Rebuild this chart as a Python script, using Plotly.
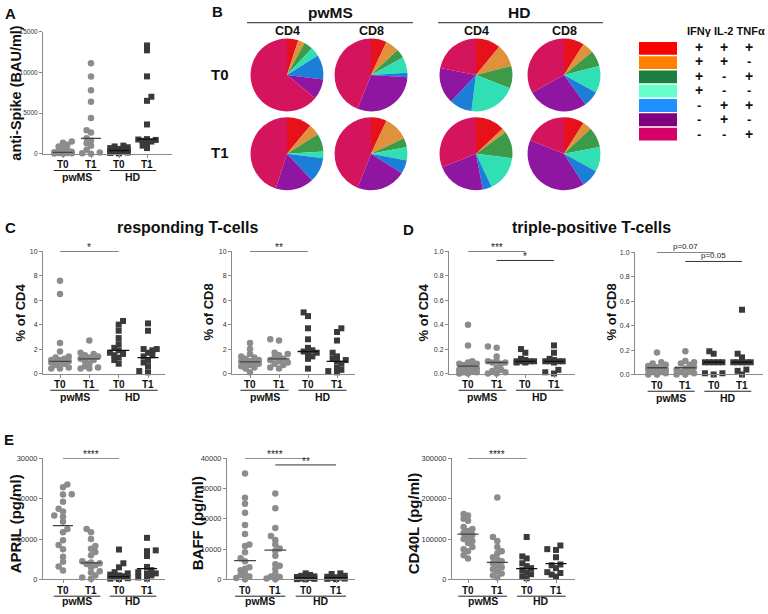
import numpy as np
import plotly.graph_objects as go

W, H = 768, 614

# ---------------- data ----------------
timepoints = ["T0", "T1", "T0", "T1"]
cohorts = ["pwMS", "HD"]

# A: anti-Spike (BAU/ml)
spike_pwms_t0 = [1500, 1350, 1100, 900, 650, 450, 300, 250, 200, 150, 100, 80, 50, 20, 0]
spike_pwms_t1 = [11100, 9500, 7800, 6400, 4400, 2900, 2600, 1900, 1600, 1300, 1000, 500, 150, 50, 0]
spike_hd_t0 = [1000, 900, 800, 700, 600, 500, 450, 400, 350, 300, 250, 200, 150, 100, 50]
spike_hd_t1 = [13300, 12700, 9500, 7000, 6500, 3600, 1800, 1750, 1700, 1600, 1500, 1300, 1000, 700]
spike_medians = [180, 1900, 400, 1800]

# B: pie fractions (%), order: IFNg+IL2+TNF+, ++-, +-+, +--, -++, -+-, --+
combo_labels = ["IFNγ+IL-2+TNFα+", "IFNγ+IL-2+TNFα-", "IFNγ+IL-2-TNFα+", "IFNγ+IL-2-TNFα-",
                "IFNγ-IL-2+TNFα+", "IFNγ-IL-2+TNFα-", "IFNγ-IL-2-TNFα+"]
combo_signs = [["+", "+", "+"], ["+", "+", "-"], ["+", "-", "+"], ["+", "-", "-"],
               ["-", "+", "+"], ["-", "+", "-"], ["-", "-", "+"]]
legend_header = "IFNγ IL-2 TNFα"
pie_pwms_cd4_t0 = [5, 3, 4, 4, 11, 9, 64]
pie_pwms_cd8_t0 = [7, 6, 4, 7, 2, 30, 44]
pie_hd_cd4_t0 = [11, 10, 10, 21, 10, 16, 22]
pie_hd_cd8_t0 = [9, 5, 7, 12, 7, 27, 33]
pie_pwms_cd4_t1 = [11, 5, 8, 3, 11, 17, 45]
pie_pwms_cd8_t1 = [7, 11, 4, 6, 6, 22, 44]
pie_hd_cd4_t1 = [13, 2, 12, 16, 4, 22, 31]
pie_hd_cd8_t1 = [9, 4, 9, 11, 8, 40, 19]

# C: responding T-cells (%)
resp_cd4 = [
    [7.6, 6.5, 2.5, 1.8, 1.4, 1.3, 1.2, 1.1, 1.1, 1.0, 1.0, 1.0, 0.9, 0.9, 0.8, 0.7, 0.5, 0.4, 0.4],
    [2.7, 1.7, 1.6, 1.5, 1.4, 1.3, 1.2, 1.1, 1.0, 0.8, 0.6, 0.5, 0.4, 0.4],
    [4.3, 4.0, 3.5, 2.9, 2.4, 2.1, 1.9, 1.7, 1.6, 1.5, 1.3, 1.1, 0.8],
    [4.1, 3.5, 2.0, 2.0, 1.9, 1.7, 1.5, 1.4, 1.1, 0.9, 0.6, 0.2, 0.1],
]
resp_cd4_medians = [1.0, 1.2, 1.9, 1.3]
resp_cd8 = [
    [2.5, 2.0, 1.6, 1.4, 1.3, 1.2, 1.1, 1.0, 1.0, 0.9, 0.9, 0.8, 0.7, 0.6, 0.5, 0.4, 0.1],
    [2.8, 2.7, 1.7, 1.6, 1.5, 1.3, 1.2, 1.1, 1.0, 0.9, 0.8, 0.7, 0.5, 0.4],
    [5.0, 4.7, 3.7, 2.8, 2.1, 1.9, 1.8, 1.7, 1.6, 1.4, 1.2, 0.4],
    [3.7, 3.4, 2.7, 1.7, 1.4, 1.2, 1.1, 1.0, 0.8, 0.5, 0.3, 0.2, 0.1],
]
resp_cd8_medians = [0.95, 1.2, 1.8, 1.0]

# D: triple-positive T-cells (%)
tp_cd4 = [
    [0.40, 0.23, 0.10, 0.09, 0.08, 0.08, 0.07, 0.06, 0.05, 0.04, 0.03, 0.03, 0.02, 0.02, 0.01, 0.01, 0.0, 0.0],
    [0.22, 0.21, 0.14, 0.10, 0.10, 0.09, 0.09, 0.08, 0.05, 0.03, 0.02, 0.01, 0.0, 0.0],
    [0.20, 0.17, 0.12, 0.11, 0.10, 0.10, 0.10, 0.10, 0.10, 0.10, 0.09, 0.09],
    [0.23, 0.17, 0.12, 0.11, 0.10, 0.10, 0.10, 0.10, 0.09, 0.03, 0.01, 0.0],
]
tp_cd4_medians = [0.06, 0.09, 0.10, 0.10]
tp_cd8 = [
    [0.18, 0.10, 0.09, 0.08, 0.07, 0.06, 0.05, 0.05, 0.04, 0.04, 0.03, 0.02, 0.02, 0.01, 0.0, 0.0],
    [0.19, 0.11, 0.10, 0.09, 0.08, 0.06, 0.05, 0.04, 0.03, 0.02, 0.01, 0.0, 0.0],
    [0.19, 0.17, 0.10, 0.10, 0.10, 0.10, 0.10, 0.01, 0.01, 0.0],
    [0.53, 0.17, 0.14, 0.10, 0.10, 0.10, 0.10, 0.10, 0.04, 0.03, 0.0],
]
tp_cd8_medians = [0.055, 0.055, 0.10, 0.10]

# E: cytokines (pg/ml)
april = [
    [23500, 22800, 21100, 21000, 19200, 17500, 16800, 15800, 15500, 14300, 12500, 11700, 9700, 8500, 7500, 5600, 4400, 3200, 2200],
    [12500, 11700, 10000, 8300, 7600, 6800, 6000, 4500, 4200, 4000, 3800, 3500, 3000, 2000, 1700, 1000, 500, 200],
    [7400, 4000, 3000, 1800, 1500, 1200, 1000, 800, 500, 300, 200, 100],
    [10300, 7200, 7000, 5800, 3100, 2300, 1800, 1500, 1500, 1000, 500, 200],
]
april_medians = [13300, 4100, 700, 2700]
baff = [
    [35000, 27000, 25000, 22000, 18000, 15000, 11500, 11000, 9000, 7000, 6000, 4000, 3500, 3000, 2000, 1500, 1000, 500, 100],
    [28400, 23500, 17000, 14300, 13000, 11500, 10200, 9500, 7800, 5000, 4500, 3500, 2000, 1000, 800, 300, 100],
    [2000, 1500, 1200, 1000, 800, 600, 500, 300, 200, 100, 50],
    [2000, 1800, 1200, 900, 700, 600, 500, 300, 200, 100],
]
baff_medians = [6200, 9650, 500, 600]
cd40l = [
    [162000, 158000, 150000, 145000, 130000, 125000, 120000, 115000, 110000, 105000, 100000, 95000, 90000, 80000, 75000, 70000, 60000, 52000],
    [203000, 105000, 95000, 80000, 70000, 65000, 55000, 50000, 45000, 40000, 35000, 30000, 25000, 20000, 15000, 10000, 5000],
    [105000, 57000, 52000, 40000, 33000, 28000, 23000, 17000, 13000, 8000, 3000],
    [84000, 75000, 73000, 55000, 37000, 35000, 28000, 18000, 16000, 12000, 7000],
]
cd40l_medians = [112000, 42000, 27000, 39000]

# ---------------- styling ----------------
FONT = "Arial, Liberation Sans, Helvetica, sans-serif"
AXIS_COL = "#8a8a8a"
PW_COL = "#8c8c8c"
HD_COL = "#3a3a3a"
PIE_COLORS = ["#e6111b", "#e0913a", "#3d9a48", "#30e0b4", "#1b7fd9", "#8e16a0", "#d4145c"]
LEG_COLORS = ["#ff0000", "#ff8000", "#1a7f40", "#66ffcc", "#1e90ff", "#800080", "#d6006b"]


def fx(px):
    return px / W


def fy(py):
    return 1 - py / H


panels = [
    dict(vals=[spike_pwms_t0, spike_pwms_t1, spike_hd_t0, spike_hd_t1], med=spike_medians,
         ymax=15000, yt=[0, 5000, 10000, 15000], fmt="d", title="anti-Spike (BAU/ml)", tsize=14.5, tpos=(16, 90),
         box=(43, 172, 28, 152), p0=63, p3=147, tick=6.5, sig=[]),
    dict(vals=resp_cd4, med=resp_cd4_medians, ymax=10, yt=[0, 2, 4, 6, 8, 10], fmt="d", title="% of CD4",
         tsize=13, tpos=(20, 313), box=(43, 165, 251, 375), p0=60, p3=148, tick=7, sig=[(0, 2, 10, "*")]),
    dict(vals=resp_cd8, med=resp_cd8_medians, ymax=10, yt=[0, 2, 4, 6, 8, 10], fmt="d", title="% of CD8",
         tsize=13, tpos=(208, 313), box=(232, 355, 251, 375), p0=250, p3=337, tick=7, sig=[(0, 2, 10, "**")]),
    dict(vals=tp_cd4, med=tp_cd4_medians, ymax=1.0, yt=[0, 0.2, 0.4, 0.6, 0.8, 1.0], fmt=".1f", title="% of CD4",
         tsize=13, tpos=(423, 313), box=(449, 575, 251, 375), p0=468, p3=554, tick=7,
         sig=[(0, 2, 1.0, "***"), (1, 3, 0.925, "*")]),
    dict(vals=tp_cd8, med=tp_cd8_medians, ymax=1.0, yt=[0, 0.2, 0.4, 0.6, 0.8, 1.0], fmt=".1f", title="% of CD8",
         tsize=13, tpos=(611, 313), box=(635, 763, 252, 376), p0=657, p3=742, tick=7,
         sig=[(0, 2, 1.0, "p=0.07"), (1, 3, 0.925, "p=0.05")]),
    dict(vals=april, med=april_medians, ymax=30000, yt=[0, 10000, 20000, 30000], fmt="d", title="APRIL (pg/ml)",
         tsize=15, tpos=(15, 528), box=(43, 165, 461, 584), p0=63, p3=147, tick=7.5, sig=[(0, 2, 30000, "****")]),
    dict(vals=baff, med=baff_medians, ymax=40000, yt=[0, 10000, 20000, 30000, 40000], fmt="d", title="BAFF (pg/ml)",
         tsize=15, tpos=(197, 527), box=(227, 355, 461, 584), p0=245, p3=336, tick=7.5,
         sig=[(0, 2, 40000, "****"), (1, 3, 37800, "**")]),
    dict(vals=cd40l, med=cd40l_medians, ymax=300000, yt=[0, 100000, 200000, 300000], fmt="d", title="CD40L (pg/ml)",
         tsize=15, tpos=(413, 528), box=(452, 575, 461, 584), p0=468, p3=556, tick=7.5,
         sig=[(0, 2, 300000, "****")]),
]


def swarm(vals, pos, ymax, hpx, upx, d=4.6, maxoff=13.0):
    """Deterministic beeswarm-style horizontal spreading (pixel space)."""
    placed = []
    xs = [0.0] * len(vals)
    order = np.argsort(np.asarray(vals), kind="stable")
    side = 1
    step = d * 0.95
    kmax = int(maxoff // step)
    for idx in order:
        ypx = vals[idx] / ymax * hpx
        cands = [0.0]
        for k in range(1, kmax + 1):
            cands += [side * k * step, -side * k * step]
        chosen = None
        best, bestd = 0.0, -1.0
        for c in cands:
            dmin = min([np.hypot(c - a, ypx - b) for a, b in placed] + [1e9])
            if dmin >= d:
                chosen = c
                break
            if dmin > bestd:
                best, bestd = c, dmin
        if chosen is None:
            chosen = best
        side = -side
        placed.append((chosen, ypx))
        xs[idx] = pos + chosen / upx
    return xs


fig = go.Figure()
layout = dict(width=W, height=H, margin=dict(l=0, r=0, t=0, b=0), paper_bgcolor="white",
              plot_bgcolor="rgba(0,0,0,0)", showlegend=False, font=dict(family=FONT, color="#111"))
shapes = []
annotations = []


def ann(text, px, py, size, bold=True, color="#111", angle=0, xanchor="center", yanchor="middle", **kw):
    annotations.append(dict(text=("<b>%s</b>" % text) if bold else text, x=fx(px), y=fy(py), xref="paper",
                            yref="paper", showarrow=False, textangle=angle, xanchor=xanchor, yanchor=yanchor,
                            font=dict(size=size, color=color, family=FONT), **kw))


for i, p in enumerate(panels):
    n = i + 1
    xs_name = "x" if n == 1 else "x%d" % n
    ys_name = "y" if n == 1 else "y%d" % n
    x0, x1, ytop, ybot = p["box"]
    upx = (p["p3"] - p["p0"]) / 3.0
    xr = [(x0 - p["p0"]) / upx, (x1 - p["p0"]) / upx]
    hpx = ybot - ytop
    if p["fmt"] == ".1f":
        ttext = ["%.1f" % v for v in p["yt"]]
    else:
        ttext = ["%d" % v for v in p["yt"]]
    layout["xaxis" if n == 1 else "xaxis%d" % n] = dict(
        domain=[fx(x0), fx(x1)], range=xr, anchor=ys_name, showline=True, linecolor=AXIS_COL, linewidth=1,
        ticks="outside", ticklen=3, tickcolor=AXIS_COL, tickvals=[0, 1, 2, 3], showticklabels=False,
        showgrid=False, zeroline=False, fixedrange=True)
    layout["yaxis" if n == 1 else "yaxis%d" % n] = dict(
        domain=[fy(ybot), fy(ytop)], range=[0, p["ymax"]], anchor=xs_name, showline=True, linecolor=AXIS_COL,
        linewidth=1, ticks="outside", ticklen=3, tickcolor=AXIS_COL, tickvals=p["yt"], ticktext=ttext,
        tickfont=dict(size=p["tick"], color="#333", family=FONT), showgrid=False, zeroline=False,
        fixedrange=True)
    for g in range(4):
        vals = p["vals"][g]
        col = PW_COL if g < 2 else HD_COL
        sym = "circle" if g < 2 else "square"
        xs = swarm(vals, g, p["ymax"], hpx, upx)
        fig.add_trace(go.Scatter(x=xs, y=vals, mode="markers", xaxis=xs_name, yaxis=ys_name, cliponaxis=False,
                                 marker=dict(symbol=sym, size=6.5 if g < 2 else 6, color=col,
                                             line=dict(width=0)), hoverinfo="y"))
        m = p["med"][g]
        fig.add_trace(go.Scatter(x=[g - 0.36, g + 0.36], y=[m, m], mode="lines", xaxis=xs_name, yaxis=ys_name,
                                 cliponaxis=False, line=dict(color="#444" if g < 2 else "#111", width=1.3),
                                 hoverinfo="skip"))
    # significance bars
    for a, b, yv, txt in p["sig"]:
        shapes.append(dict(type="line", xref=xs_name, yref=ys_name, x0=a, x1=b, y0=yv, y1=yv,
                           line=dict(color="#333", width=1)))
        star = txt.startswith("*")
        annotations.append(dict(text=txt, x=(a + b) / 2, y=yv, xref=xs_name, yref=ys_name, showarrow=False,
                                xanchor="center", yanchor="bottom", yshift=-4 if star else -1,
                                font=dict(size=10 if star else 8, color="#222", family=FONT)))
    # category labels and group labels
    lab_y = ybot + 11
    line_y = ybot + 17
    grp_y = min(ybot + 24, 606)
    for g in range(4):
        annotations.append(dict(text="<b>%s</b>" % timepoints[g], x=g, y=fy(lab_y), xref=xs_name, yref="paper",
                                showarrow=False, xanchor="center", yanchor="middle",
                                font=dict(size=10, color="#111", family=FONT)))
    for c in range(2):
        shapes.append(dict(type="line", xref=xs_name, yref="paper", x0=2 * c - 0.33, x1=2 * c + 1.33,
                           y0=fy(line_y), y1=fy(line_y), line=dict(color="#222", width=1)))
        annotations.append(dict(text="<b>%s</b>" % cohorts[c], x=2 * c + 0.5, y=fy(grp_y), xref=xs_name,
                                yref="paper", showarrow=False, xanchor="center", yanchor="middle",
                                font=dict(size=10.5, color="#111", family=FONT)))
    # axis title
    ann(p["title"], p["tpos"][0], p["tpos"][1], p["tsize"], angle=-90)

# ---------------- pies ----------------
pie_sets = [
    (pie_pwms_cd4_t0, 287, 72), (pie_pwms_cd8_t0, 371, 72), (pie_hd_cd4_t0, 476, 72), (pie_hd_cd8_t0, 564, 72),
    (pie_pwms_cd4_t1, 287, 152), (pie_pwms_cd8_t1, 371, 152), (pie_hd_cd4_t1, 476, 152), (pie_hd_cd8_t1, 564, 152),
]
R = 37
for vals, cx, cy in pie_sets:
    fig.add_trace(go.Pie(values=vals, labels=combo_labels, sort=False, direction="clockwise", rotation=0,
                         textinfo="none", hoverinfo="label+percent", showlegend=False,
                         marker=dict(colors=PIE_COLORS, line=dict(width=0)),
                         domain=dict(x=[fx(cx - R), fx(cx + R)], y=[fy(cy + R), fy(cy - R)])))

# pie headers
ann("pwMS", 330, 9, 15.5)
shapes.append(dict(type="line", xref="paper", yref="paper", x0=fx(247), x1=fx(413), y0=fy(19), y1=fy(19),
                   line=dict(color="#222", width=1)))
ann("HD", 519, 9, 15.5)
shapes.append(dict(type="line", xref="paper", yref="paper", x0=fx(438), x1=fx(603), y0=fy(19), y1=fy(19),
                   line=dict(color="#222", width=1)))
for lab, cx in [("CD4", 287), ("CD8", 371), ("CD4", 476), ("CD8", 564)]:
    ann(lab, cx, 27, 12.5)
ann("T0", 220, 72, 15)
ann("T1", 220, 151, 15)

# combination legend
ann(legend_header, 767, 27, 11, xanchor="right")
row_y = [45, 59.5, 74, 88.5, 103, 117.5, 132]
for k in range(7):
    shapes.append(dict(type="rect", xref="paper", yref="paper", x0=fx(639), x1=fx(677), y0=fy(row_y[k] + 6.5),
                       y1=fy(row_y[k] - 6.5), fillcolor=LEG_COLORS[k], line=dict(width=0)))
# signs: one multi-line text per column (line spacing matches row pitch), glyphs enlarged
SIGN_STYLE = {"+": "<span style='font-size:14px'>+</span>", "-": "<span style='font-size:13px'>-</span>"}
for j, sx in enumerate([699, 724, 749]):
    col_text = "<br>".join(SIGN_STYLE[combo_signs[k][j]] for k in range(7))
    ann(col_text, sx, (row_y[0] + row_y[-1]) / 2 - 1, 11.15)

# panel letters and titles
ann("A", 10, 10, 15)
ann("B", 217, 8, 15)
ann("C", 10, 227, 15)
ann("D", 408, 229, 15)
ann("E", 9, 442, 15)
ann("responding T-cells", 187, 227, 16)
ann("triple-positive T-cells", 591, 227, 16)

layout["shapes"] = shapes
layout["annotations"] = annotations
fig.update_layout(**layout)
fig.write_html("out.html", config={"displayModeBar": False},
               post_script="document.body.style.margin='0px';document.body.style.padding='0px';"
                           "document.body.style.overflow='hidden';")
